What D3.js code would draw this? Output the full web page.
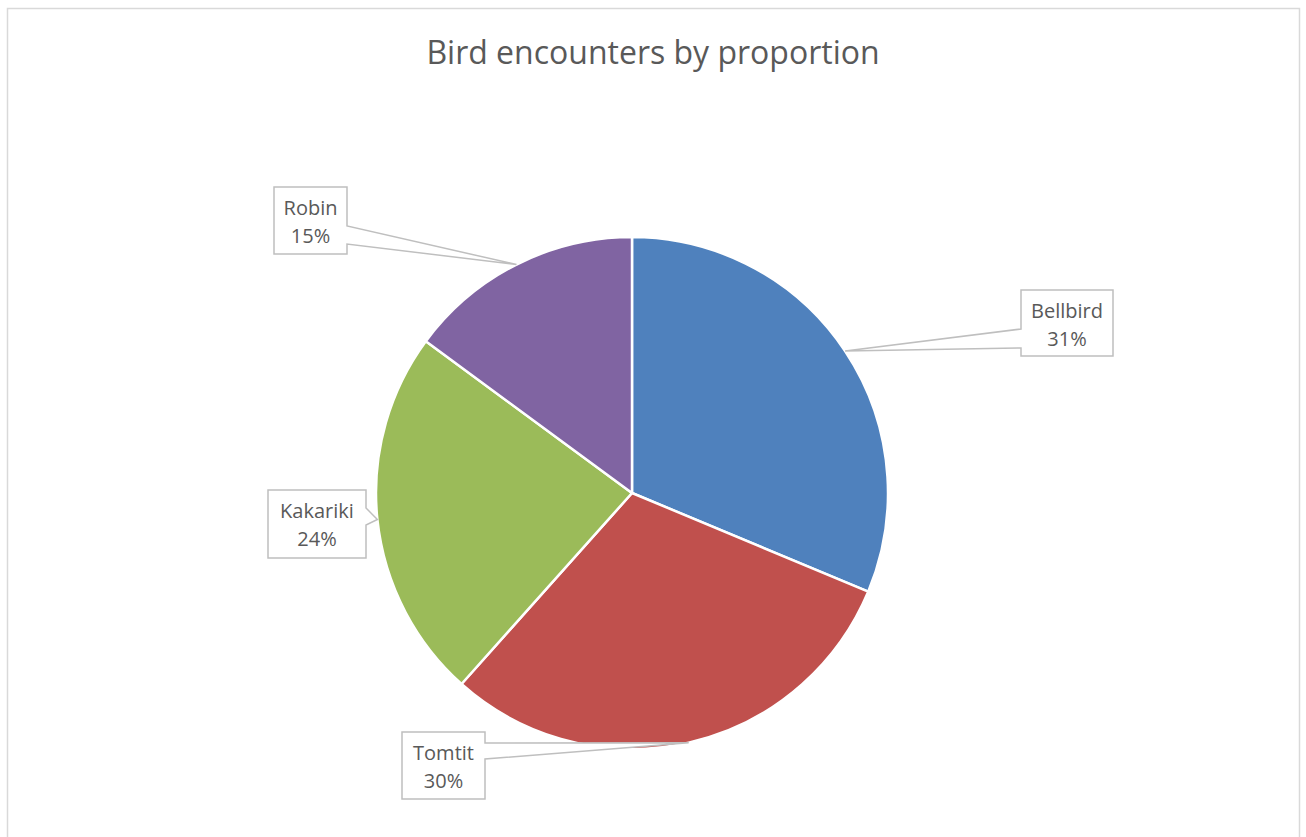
<!DOCTYPE html>
<html lang="en">
<head>
    <meta charset="UTF-8">
    <title>Bird encounters by proportion</title>
    <script src="https://d3js.org/d3.v7.min.js"></script>
    <style>
        body {
            margin: 0;
            background-color: #fff;
            font-family: "Open Sans", Arial, sans-serif;
        }
        .label {
            fill: #595959;
            font-size: 20px;
        }
        .title {
            fill: #595959;
            font-size: 32px;
        }
    </style>
</head>
<body>
    <svg width="1306" height="837"></svg>

    <script>
        // 데이터
        const birds = ["Bellbird", "Tomtit", "Kakariki", "Robin"];
        const shares = [31.3, 30.3, 23.5, 14.9];
        const colors = ["#4f81bd", "#c0504d", "#9bbb59", "#8064a2"];

        // 라벨 박스 위치 (x, y, w, h, 포인터가 붙는 쪽, 포인터 y 범위)
        const boxes = [
            { x: 1021, y: 290, w: 92, h: 66, side: "left", a: 329, b: 348 },
            { x: 402, y: 732, w: 83, h: 67, side: "right", a: 743, b: 759 },
            { x: 268, y: 490, w: 98, h: 68, side: "right", a: 508, b: 525 },
            { x: 274, y: 187, w: 73, h: 67, side: "right", a: 226, b: 244 }
        ];

        const width = 1306, height = 837;
        const cx = 632, cy = 493, radius = 256;

        const svg = d3.select("svg");

        // 차트 테두리 (아래쪽은 잘림)
        svg.append("path")
            .attr("d", `M7.5,${height} V8.5 H1299.5 V${height}`)
            .attr("fill", "none")
            .attr("stroke", "#d9d9d9")
            .attr("stroke-width", 1.5);

        svg.append("text")
            .attr("class", "title")
            .attr("x", 653)
            .attr("y", 64)
            .attr("text-anchor", "middle")
            .text("Bird encounters by proportion");

        const data = birds.map((name, i) => ({ name, value: shares[i], color: colors[i], box: boxes[i] }));

        const pie = d3.pie().value(d => d.value).sort(null);
        const arc = d3.arc().innerRadius(0).outerRadius(radius);
        const arcs = pie(data);

        const g = svg.append("g").attr("transform", `translate(${cx},${cy})`);

        g.selectAll("path")
            .data(arcs)
            .join("path")
            .attr("d", arc)
            .attr("fill", d => d.data.color)
            .attr("stroke", "#fff")
            .attr("stroke-width", 2.5)
            .attr("stroke-linejoin", "round");

        // 콜아웃 라벨
        const callouts = svg.append("g");
        arcs.forEach(d => {
            const mid = (d.startAngle + d.endAngle) / 2;
            const tx = cx + radius * Math.sin(mid);
            const ty = cy - radius * Math.cos(mid);
            const b = d.data.box;
            const r = b.x + b.w, bt = b.y + b.h;
            let p;
            if (b.side === "right") {
                p = `M${b.x},${b.y} H${r} V${b.a} L${tx},${ty} L${r},${b.b} V${bt} H${b.x} Z`;
            } else {
                p = `M${b.x},${b.y} H${r} V${bt} H${b.x} V${b.b} L${tx},${ty} L${b.x},${b.a} Z`;
            }
            callouts.append("path")
                .attr("d", p)
                .attr("fill", "#fff")
                .attr("stroke", "#bfbfbf")
                .attr("stroke-width", 1.5);

            const t = callouts.append("text")
                .attr("class", "label")
                .attr("text-anchor", "middle")
                .attr("x", b.x + b.w / 2);
            t.append("tspan")
                .attr("x", b.x + b.w / 2)
                .attr("y", b.y + 28)
                .text(d.data.name);
            t.append("tspan")
                .attr("x", b.x + b.w / 2)
                .attr("y", b.y + 56)
                .text(Math.round(d.data.value) + "%");
        });
    </script>
</body>
</html>
